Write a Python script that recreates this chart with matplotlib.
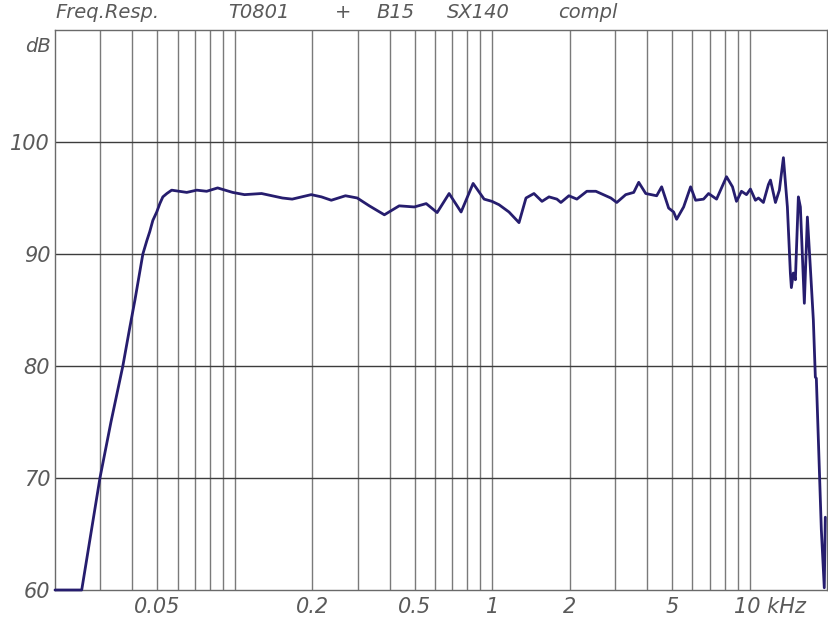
import matplotlib
matplotlib.use("Agg")
import matplotlib.pyplot as plt
from matplotlib.transforms import ScaledTranslation
import numpy as np

# ---- data (frequency in kHz, level in dB) ----
freq_khz = [0.0200, 0.0254, 0.0299, 0.0330, 0.0367, 0.0391, 0.0409, 0.0439,
            0.0455, 0.0467, 0.0480, 0.0497, 0.0511, 0.0525, 0.0544, 0.0568,
            0.0650, 0.0711, 0.0777, 0.0857,
            0.0980, 0.109, 0.127, 0.153, 0.167, 0.198, 0.217, 0.237, 0.269,
            0.299, 0.313, 0.333, 0.381, 0.435, 0.498, 0.554, 0.611, 0.680,
            0.757, 0.843, 0.930, 0.998, 1.063, 1.162, 1.271, 1.353, 1.453,
            1.561, 1.662, 1.784, 1.849, 1.986, 2.133, 2.332, 2.528, 2.890,
            3.048, 3.303, 3.548, 3.710, 3.950, 4.356, 4.555, 4.849, 5.070,
            5.208, 5.545, 5.902, 6.171, 6.628, 6.931, 7.444, 8.138, 8.585,
            8.897, 9.304, 9.730, 10.08, 10.54, 10.83, 11.32, 11.84, 12.06,
            12.61, 13.06, 13.54, 14.03, 14.41, 14.54, 14.80, 15.07, 15.48,
            15.76, 16.33, 16.78, 17.23, 17.70, 18.02, 18.18, 19.01, 19.52,
            19.70]
level_db = [60.0, 60.0, 70.0, 75.0, 80.0, 83.5, 85.9, 90.0,
            91.2, 92.0, 93.0, 93.75, 94.5, 95.1, 95.4, 95.7,
            95.5, 95.7, 95.6, 95.9,
            95.5, 95.3, 95.4, 95.0, 94.9, 95.3, 95.1, 94.8, 95.2,
            95.0, 94.7, 94.3, 93.5, 94.3, 94.2, 94.5, 93.7, 95.4,
            93.75, 96.3, 94.9, 94.7, 94.4, 93.75, 92.8, 95.0, 95.4,
            94.7, 95.1, 94.9, 94.6, 95.2, 94.9, 95.6, 95.6, 95.0,
            94.6, 95.3, 95.5, 96.4, 95.4, 95.2, 96.0, 94.1, 93.75,
            93.1, 94.2, 96.0, 94.8, 94.9, 95.4, 94.9, 96.9, 96.0,
            94.7, 95.6, 95.3, 95.8, 94.8, 95.0, 94.6, 96.2, 96.6,
            94.6, 95.7, 98.6, 94.2, 88.3, 87.0, 88.3, 87.7, 95.1,
            94.2, 85.6, 93.3, 88.8, 84.1, 79.0, 78.9, 65.4, 60.2,
            66.5]

y_ticks = [60, 70, 80, 90, 100]
y_tick_labels = ["60", "70", "80", "90", "100"]
x_label_ticks = [0.05, 0.2, 0.5, 1, 2, 5, 10]
x_tick_labels = ["0.05", "0.2", "0.5", "1", "2", "5", "10 kHz"]
title_words = ["Freq.Resp.", "T0801", "+", "B15", "SX140", "compl"]
unit_label = "dB"

# ---- figure ----
W, H = 829, 618
fig = plt.figure(figsize=(W / 100, H / 100), dpi=100)
ax = fig.add_axes([55 / W, 28 / H, 772 / W, 560 / H])

text_color = "#5a5a5a"
font = dict(family="DejaVu Sans", style="italic", color=text_color)

ax.set_xscale("log")
ax.set_xlim(0.02, 20)
ax.set_ylim(60, 110)

# vertical grid at 1..9 multiples of each decade
vgrid = []
for dec in [0.01, 0.1, 1, 10]:
    for m in range(1, 10):
        v = dec * m
        if 0.02 < v < 20:
            vgrid.append(v)
for v in vgrid:
    ax.axvline(v, color="#7a7a7a", lw=1.0, zorder=1)
for yv in y_ticks[1:]:
    ax.axhline(yv, color="#3c3c3c", lw=1.0, zorder=1)

ax.plot(freq_khz, level_db, color="#261d6e", lw=2.0, zorder=5,
        solid_joinstyle="round", solid_capstyle="round", clip_on=False)

ax.set_yticks(y_ticks)
ax.set_yticklabels(y_tick_labels)
ax.set_xticks(x_label_ticks)
ax.set_xticklabels(x_tick_labels)
ax.xaxis.set_minor_locator(matplotlib.ticker.NullLocator())
ax.tick_params(axis="both", length=0)
ax.tick_params(axis="y", pad=3.5)
ax.tick_params(axis="x", pad=5)
for lab in ax.get_yticklabels() + ax.get_xticklabels():
    lab.set_fontfamily("DejaVu Sans")
    lab.set_fontstyle("italic")
    lab.set_fontsize(15)
    lab.set_color(text_color)
# shift the last x label ("10 kHz") so its digits sit left of the 10 kHz line
last = ax.get_xticklabels()[-1]
last.set_transform(last.get_transform() + ScaledTranslation(20 / 100, 0, fig.dpi_scale_trans))

for s in ax.spines.values():
    s.set_color("#6a6a6a")
    s.set_linewidth(1.0)

# unit label near top-left
fig.text(51 / W, 1 - 46 / H, unit_label, ha="right", va="center", fontsize=14, **font)

# title words placed along the top
title_x = [55, 228, 335, 376, 447, 558]
for wd, xp in zip(title_words, title_x):
    fig.text(xp / W, 1 - 13 / H, wd, ha="left", va="center", fontsize=14, **font)

fig.savefig("out.png", dpi=100)
